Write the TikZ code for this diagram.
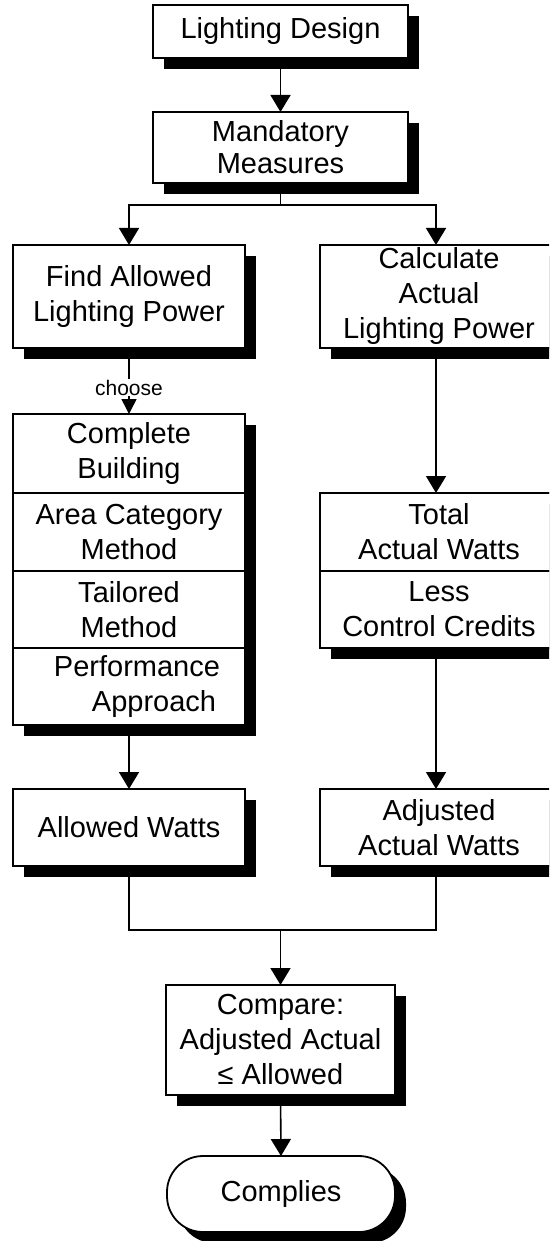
\documentclass[tikz,border=0pt]{standalone}
\usepackage{fontspec}
\setmainfont{Liberation Sans}
\usetikzlibrary{arrows.meta,shadows}
\begin{document}
\begin{tikzpicture}[x=1pt,y=-1pt,
  every node/.style={font=\fontsize{29}{35}\selectfont, align=center, inner sep=0pt, outer sep=0pt},
  box/.style={draw, line width=1.8pt, fill=white, minimum width=#1},
  box/.default=232,
  shd/.style={drop shadow={shadow xshift=11pt, shadow yshift=-11pt, fill=black, opacity=1}},
  conn/.style={line width=1.6pt},
  arr/.style={conn, -{Triangle[width=20pt,length=17pt]}},
  sarr/.style={conn, -{Triangle[width=15pt,length=15pt]}},
  small/.style={font=\fontsize{21}{24}\selectfont, fill=white, inner sep=1pt}
]
\useasboundingbox (0,0) rectangle (549,1241);
\clip (0,0) rectangle (549,1241);

% top column
\node[box=255, shd, minimum height=53] (ld) at (280.5,31.5) {Lighting Design};
\node[box=255, shd, minimum height=71, font=\fontsize{29}{32}\selectfont] (mm) at (280.5,147.5) {Mandatory\\Measures};

% second row
\node[box, shd, minimum height=103] (fa) at (129,296.5) {Find Allowed\\Lighting Power};
\node[box=238, shd, minimum height=103] (ca) at (439,296.5) {Calculate\\Actual\\Lighting Power};

% left stack
\node[box, shd, minimum height=311] (lstack) at (129,569.5) {};
\node[box, minimum height=79] (cb) at (129,453.5) {Complete\\Building};
\node[box, minimum height=78] (ac) at (129,532) {Area Category\\Method};
\node[box, minimum height=77] (tm) at (129,609.5) {Tailored\\Method};
\node[box, minimum height=77, align=left] (pa) at (129,686.5) {\hspace*{16pt}Performance\\\hspace*{54pt}Approach};

% right stack
\node[box=238, shd, minimum height=155] (rstack) at (439,570.5) {};
\node[box=238, minimum height=78] (ta) at (439,532) {Total\\Actual Watts};
\node[box=238, minimum height=77] (lc) at (439,609.5) {Less\\Control Credits};

% watts row
\node[box, shd, minimum height=77] (aw) at (129,827.5) {Allowed Watts};
\node[box=238, shd, minimum height=77] (adj) at (439,827.5) {Adjusted\\Actual Watts};

% bottom
\node[box=229, shd, minimum height=110] (cmp) at (280.5,1040) {Compare:\\Adjusted Actual\\≤ Allowed};
\node[box=228, shd, minimum height=76, rounded corners=36pt] (cp) at (281,1194) {Complies};

% connectors
\coordinate (branch) at (280.5,205);
\coordinate (join) at (280.5,930);
\coordinate (rcol) at (436,0);
\draw[arr] (ld.south) -- (mm.north);
\draw[conn] (mm.south) -- (branch);
\draw[arr] (branch) -| (fa.north);
\draw[arr] (branch) -| (rcol |- ca.north);
\draw[sarr] (fa.south) -- node[small, pos=0.6] (ch) {choose} (cb.north);
\draw[arr] (rcol |- ca.south) -- (rcol |- ta.north);
\draw[arr] (lstack.south) -- (aw.north);
\draw[arr] (rcol |- rstack.south) -- (rcol |- adj.north);
\draw[conn] (aw.south) |- (join) -| (rcol |- adj.south);
\draw[arr] (join) -- (cmp.north);
\draw[arr] (cmp.south) -- (cp.north);
\end{tikzpicture}
\end{document}
